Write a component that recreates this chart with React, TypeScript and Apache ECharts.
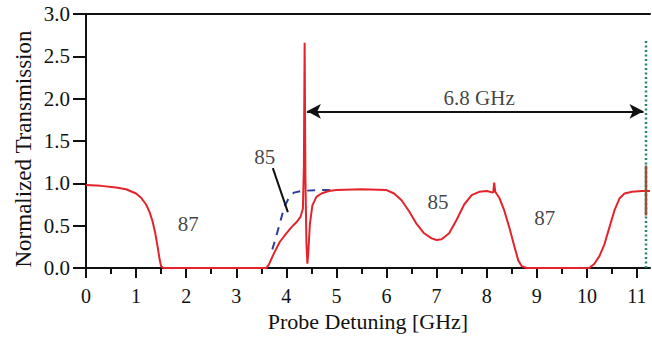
import React, { useEffect, useRef } from 'react';
import * as echarts from 'echarts';

// Red transmission trace
const redX = [0, 0.3, 0.6, 0.8, 1.0, 1.1, 1.2, 1.27, 1.33, 1.38, 1.43, 1.47, 1.5, 1.55, 2.5, 3.6,
  3.65, 3.75, 3.87, 4.0, 4.1, 4.2, 4.28, 4.33, 4.35, 4.365, 4.38, 4.4, 4.42, 4.44, 4.47, 4.52, 4.6, 4.7, 4.85,
  5.0, 5.5, 6.0, 6.15, 6.3, 6.45, 6.6, 6.75, 6.9, 7.0, 7.1, 7.25, 7.4, 7.55, 7.7, 7.85, 8.0, 8.13, 8.15, 8.17,
  8.25, 8.35, 8.45, 8.55, 8.63, 8.7, 8.8, 10.05, 10.15, 10.25, 10.35, 10.45, 10.55, 10.65, 10.75, 10.9, 11.1, 11.26];
const redY = [0.98, 0.97, 0.95, 0.93, 0.88, 0.83, 0.75, 0.66, 0.55, 0.42, 0.25, 0.1, 0.02, 0, 0, 0,
  0.04, 0.17, 0.31, 0.41, 0.48, 0.54, 0.6, 0.7, 1.2, 2.66, 1.1, 0.3, 0.05, 0.2, 0.52, 0.74, 0.84, 0.88, 0.91,
  0.92, 0.93, 0.92, 0.88, 0.8, 0.67, 0.52, 0.41, 0.35, 0.33, 0.34, 0.41, 0.57, 0.75, 0.86, 0.9, 0.91, 0.89, 1.01, 0.9,
  0.83, 0.68, 0.48, 0.26, 0.09, 0.02, 0, 0, 0.05, 0.14, 0.28, 0.48, 0.68, 0.82, 0.88, 0.9, 0.91, 0.91];

// Blue dashed (85 line fit)
const blueX = [3.72, 3.8, 3.88, 3.96, 4.05, 4.15, 4.3, 4.6, 5.0];
const blueY = [0.22, 0.38, 0.55, 0.72, 0.83, 0.89, 0.91, 0.92, 0.92];

// Pointer line from "85" label
const pointerX = [3.73, 4.03];
const pointerY = [1.18, 0.66];

// Double arrow (6.8 GHz)
const arrowX = [4.41, 11.13];
const arrowY = 1.85;

// Reference markers
const refX = 11.18;
const greenY = [0, 2.7];
const brownY = [0.62, 1.21];

// Text annotations
const labelTexts = ['87', '85', '85', '87', '6.8 GHz'];
const labelX = [2.04, 3.57, 7.03, 9.16, 7.85];
const labelY = [0.52, 1.31, 0.78, 0.59, 2.01];

// Axis ticks
const xMajorTicks = [0, 1, 2, 3, 4, 5, 6, 7, 8, 9, 10, 11];
const xMinorTicks = [0.5, 1.5, 2.5, 3.5, 4.5, 5.5, 6.5, 7.5, 8.5, 9.5, 10.5];
const xMin = 0;
const xMax = 11.26;
const yMin = 0;
const yMax = 3;
const yInterval = 0.5;

const FONT = '"Liberation Serif", "Times New Roman", serif';
const INK = '#111';

export default function App() {
  const ref = useRef<HTMLDivElement>(null);
  useEffect(() => {
    if (!ref.current) return;
    const chart = echarts.init(ref.current, null, { renderer: 'svg' });
    const zip = (xs: number[], ys: number[]) => xs.map((x, i) => [x, ys[i]]);
    chart.setOption({
      animation: false,
      backgroundColor: '#fff',
      grid: { left: 86, right: 2, top: 14, bottom: 70, outerBoundsMode: 'none' },
      xAxis: [
        {
          type: 'value', min: xMin, max: xMax, position: 'bottom',
          axisLine: { show: true, lineStyle: { color: INK, width: 2 } },
          axisTick: { show: true, customValues: xMajorTicks, length: 10, lineStyle: { color: INK, width: 2 } },
          axisLabel: { customValues: xMajorTicks, fontSize: 20, fontFamily: FONT, color: INK, margin: 18 },
          splitLine: { show: false },
          name: 'Probe Detuning [GHz]', nameLocation: 'middle', nameGap: 42,
          nameTextStyle: { fontSize: 22, fontFamily: FONT, color: INK },
        },
        {
          type: 'value', min: xMin, max: xMax, position: 'bottom',
          axisLine: { show: false },
          axisTick: { show: true, customValues: xMinorTicks, length: 6, lineStyle: { color: INK, width: 2 } },
          axisLabel: { show: false },
          splitLine: { show: false },
        },
        {
          type: 'value', min: xMin, max: xMax, position: 'top',
          axisLine: { show: true, lineStyle: { color: INK, width: 2 } },
          axisTick: { show: false },
          axisLabel: { show: false },
          splitLine: { show: false },
        },
      ],
      yAxis: {
        type: 'value', min: yMin, max: yMax, interval: yInterval,
        axisLine: { show: true, lineStyle: { color: INK, width: 2 } },
        axisTick: { show: true, length: 13, lineStyle: { color: INK, width: 2 } },
        axisLabel: { fontSize: 21, fontFamily: FONT, color: INK, margin: 16, formatter: (v: number) => v.toFixed(1) },
        splitLine: { show: false },
      },
      graphic: [
        {
          type: 'text', x: 23, y: 149, rotation: Math.PI / 2,
          style: { text: 'Normalized Transmission', font: `23px ${FONT}`, fill: INK, align: 'center', verticalAlign: 'middle' },
        },
      ],
      series: [
        {
          type: 'line', name: 'green', data: greenY.map((y) => [refX, y]), symbol: 'none',
          lineStyle: { color: '#1f8a6a', width: 2.5, type: [2, 2.5] }, silent: true,
        },
        {
          type: 'line', name: 'blue', data: zip(blueX, blueY), symbol: 'none',
          lineStyle: { color: '#2c3f98', width: 2, type: [8, 7] }, silent: true,
        },
        {
          type: 'line', name: 'red', data: zip(redX, redY), symbol: 'none',
          lineStyle: { color: '#e3242b', width: 2 }, silent: true,
        },
        {
          type: 'line', name: 'brown', data: brownY.map((y) => [refX, y]), symbol: 'none',
          lineStyle: { color: '#8b5a35', width: 2.5 }, silent: true,
        },
        {
          type: 'line', name: 'pointer', data: zip(pointerX, pointerY), symbol: 'none',
          lineStyle: { color: INK, width: 2 }, silent: true,
          markLine: {
            silent: true, symbol: ['arrow', 'arrow'], symbolSize: [11, 14],
            label: { show: false },
            lineStyle: { color: INK, width: 2, type: 'solid' },
            data: [[{ coord: [arrowX[0], arrowY] }, { coord: [arrowX[1], arrowY] }]],
          },
        },
        {
          type: 'scatter', name: 'labels', symbolSize: 0, silent: true,
          data: labelTexts.map((t, i) => [labelX[i], labelY[i], t]),
          label: {
            show: true, position: 'inside', formatter: (p: any) => p.data[2],
            fontSize: 21, fontFamily: FONT, color: INK,
          },
        },
      ],
    });
    return () => chart.dispose();
  }, []);
  return <div ref={ref} style={{ position: 'absolute', left: 0, top: 0, width: 652, height: 338 }} />;
}
